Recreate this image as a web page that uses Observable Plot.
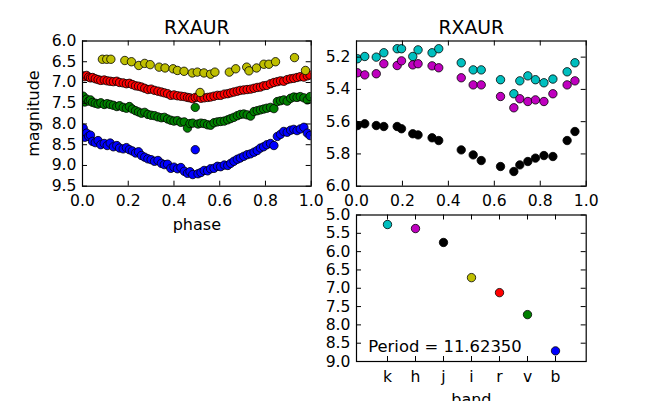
<!DOCTYPE html>
<html><head><meta charset="utf-8">
<script src="https://cdn.jsdelivr.net/npm/d3@7"></script>
<script src="https://cdn.jsdelivr.net/npm/@observablehq/plot@0.6"></script>
<style>
body{margin:0;background:#fff;}
#wrap{position:relative;width:650px;height:401px;overflow:hidden;background:#fff;}
#wrap svg{position:absolute;left:0;top:0;}
</style></head><body><div id="wrap"></div>
<script>
const starName = "RXAUR";
const periodText = "Period = 11.62350";

// optical bands (b, v, r) share phases
const bvrPhase = [0.003,0.010,0.018,0.027,0.035,0.044,0.056,0.068,0.080,0.095,0.108,0.121,0.135,0.150,0.162,0.178,0.192,0.205,0.218,0.232,0.245,0.258,0.272,0.286,0.300,0.315,0.330,0.345,0.358,0.372,0.386,0.400,0.415,0.430,0.445,0.459,0.470,0.482,0.493,0.505,0.518,0.532,0.547,0.560,0.575,0.590,0.604,0.620,0.635,0.648,0.662,0.677,0.690,0.705,0.720,0.735,0.750,0.764,0.778,0.792,0.806,0.822,0.837,0.852,0.866,0.880,0.895,0.910,0.924,0.938,0.952,0.968,0.983,0.995];
const bMag = [8.10,8.32,8.22,8.30,8.27,8.42,8.45,8.40,8.50,8.47,8.52,8.46,8.55,8.52,8.58,8.60,8.57,8.62,8.65,8.70,8.67,8.76,8.80,8.84,8.86,8.90,8.88,8.95,8.98,8.97,9.07,9.04,9.08,9.05,9.14,9.19,9.15,9.22,8.62,9.20,9.17,9.12,9.13,9.08,9.07,9.02,9.03,8.99,9.00,8.95,8.90,8.85,8.82,8.78,8.74,8.72,8.68,8.64,8.58,8.55,8.50,8.47,8.52,8.30,8.25,8.18,8.20,8.15,8.13,8.16,8.12,8.08,8.22,8.28];
const vMag = [7.33,7.47,7.40,7.45,7.42,7.48,7.50,7.52,7.49,7.53,7.51,7.53,7.55,7.58,7.56,7.60,7.62,7.58,7.64,7.68,7.71,7.74,7.72,7.77,7.79,7.80,7.83,7.85,7.84,7.88,7.91,7.93,7.92,7.96,7.95,8.10,7.99,7.98,7.60,8.00,7.98,7.99,8.02,8.03,7.97,7.95,7.94,7.93,7.90,7.87,7.84,7.80,7.77,7.76,7.78,7.81,7.70,7.68,7.66,7.64,7.62,7.60,7.63,7.46,7.44,7.42,7.45,7.38,7.35,7.36,7.34,7.37,7.42,7.34];
const rMag = [6.84,6.86,6.83,6.87,6.89,6.88,6.91,6.93,6.95,6.94,6.96,6.97,6.98,6.97,7.00,7.01,7.03,7.02,7.05,7.08,7.09,7.11,7.14,7.17,7.16,7.19,7.21,7.23,7.25,7.27,7.31,7.30,7.32,7.33,7.34,7.36,7.37,7.39,7.36,7.35,7.38,7.37,7.36,7.35,7.33,7.31,7.31,7.28,7.27,7.25,7.23,7.21,7.19,7.18,7.17,7.16,7.14,7.12,7.11,7.08,7.07,7.03,7.00,6.98,6.96,6.97,6.93,6.91,6.90,6.88,6.86,6.87,6.84,6.82];

const iPhase = [0.087,0.106,0.124,0.185,0.214,0.246,0.272,0.296,0.335,0.361,0.396,0.415,0.444,0.480,0.502,0.514,0.531,0.560,0.579,0.642,0.670,0.718,0.728,0.761,0.793,0.815,0.844,0.927,0.975];
const iMag = [6.44,6.44,6.44,6.47,6.50,6.59,6.54,6.57,6.63,6.65,6.67,6.71,6.73,6.77,6.75,7.24,6.77,6.80,6.75,6.75,6.67,6.63,6.72,6.65,6.56,6.56,6.50,6.40,6.71];

// near-infrared bands (k, h, j) share phases
const nirPhase = [0.004,0.036,0.086,0.119,0.177,0.196,0.245,0.268,0.329,0.358,0.456,0.508,0.543,0.627,0.685,0.711,0.746,0.779,0.816,0.855,0.917,0.951];
const kMag = [5.21,5.196,5.20,5.173,5.148,5.148,5.196,5.155,5.173,5.148,5.235,5.279,5.279,5.34,5.427,5.347,5.316,5.34,5.359,5.336,5.291,5.235];
const hMag = [5.297,5.31,5.303,5.241,5.252,5.223,5.248,5.241,5.254,5.266,5.328,5.372,5.372,5.444,5.514,5.458,5.475,5.465,5.475,5.427,5.372,5.347];
const jMag = [5.624,5.613,5.624,5.63,5.63,5.644,5.675,5.682,5.70,5.717,5.775,5.806,5.841,5.878,5.909,5.868,5.847,5.826,5.81,5.816,5.717,5.661];

// mean magnitude per band
const bands = ["k","h","j","i","r","v","b"];
const bandMag = [5.26,5.37,5.75,6.71,7.12,7.72,8.71];
const bandColor = {k:"#00bfbf", h:"#bf00bf", j:"#000000", i:"#bfbf00", r:"#ff0000", v:"#008000", b:"#0000ff"};

const phaseTicks = [0.0,0.2,0.4,0.6,0.8,1.0];
const optTicks = [6.0,6.5,7.0,7.5,8.0,8.5,9.0,9.5];
const nirTicks = [5.2,5.4,5.6,5.8,6.0];
const meanTicks = [5.0,5.5,6.0,6.5,7.0,7.5,8.0,8.5,9.0];

const W = 650, H = 401;
const FS = 15.6, LABEL_FS = 16, TITLE_FS = 18.8;
const fmt1 = d3.format(".1f");
const dotOpts = {r: 4.2, stroke: "black", strokeWidth: 0.8, clip: true};

function series(phase, mag, band) {
  return Plot.dot(phase.map((p, i) => ({phase: p, mag: mag[i]})),
    {x: d => d.phase, y: d => d.mag, fill: bandColor[band], ...dotOpts});
}

function panel(o) {
  const fw = W - o.ml - o.mr, fh = H - o.mt - o.mb, tl = 5;
  return Plot.plot({
    width: W, height: H,
    marginLeft: o.ml, marginRight: o.mr, marginTop: o.mt, marginBottom: o.mb,
    x: o.x, y: o.y,
    style: {fontFamily: "'DejaVu Sans', sans-serif", fontSize: FS + "px", background: "transparent", overflow: "visible", color: "black"},
    marks: [
      ...o.dots,
      Plot.frame({stroke: "black", strokeWidth: 1.2}),
      Plot.tickX(o.xTicks, {x: d => d, insetTop: fh - tl, stroke: "black"}),
      Plot.tickX(o.xTicks, {x: d => d, insetBottom: fh - tl, stroke: "black"}),
      Plot.tickY(o.yTicks, {y: d => d, insetRight: fw - tl, stroke: "black"}),
      Plot.tickY(o.yTicks, {y: d => d, insetLeft: fw - tl, stroke: "black"}),
      Plot.axisX(o.xTicks, {anchor: "bottom", tickSize: 0, tickPadding: 9.2, tickFormat: o.xFormat, label: null, fontSize: FS}),
      Plot.axisY(o.yTicks, {anchor: "left", tickSize: 0, tickPadding: 6, tickFormat: fmt1, label: null, fontSize: FS}),
      ...o.extra
    ]
  });
}

const wrap = document.getElementById("wrap");

wrap.append(panel({
  ml: 82, mr: 339.3, mt: 40.5, mb: 215.3,
  x: {domain: [0, 1]}, y: {domain: [6, 9.5], reverse: true},
  xTicks: phaseTicks, yTicks: optTicks, xFormat: fmt1,
  dots: [series(bvrPhase, bMag, "b"), series(bvrPhase, vMag, "v"), series(bvrPhase, rMag, "r"), series(iPhase, iMag, "i")],
  extra: [
    Plot.text([starName], {text: d => d, frameAnchor: "top", dy: -7.2, lineAnchor: "bottom", fontSize: TITLE_FS}),
    Plot.text(["phase"], {text: d => d, frameAnchor: "bottom", dy: 43.8, lineAnchor: "bottom", fontSize: LABEL_FS}),
    Plot.text(["magnitude"], {text: d => d, frameAnchor: "left", dx: -43.5, rotate: -90, textAnchor: "middle", lineAnchor: "bottom", fontSize: LABEL_FS})
  ]
}));

wrap.append(panel({
  ml: 356, mr: 64.3, mt: 40.5, mb: 215.3,
  x: {domain: [0, 1]}, y: {domain: [5.1, 6.0], reverse: true},
  xTicks: phaseTicks, yTicks: nirTicks, xFormat: fmt1,
  dots: [series(nirPhase, kMag, "k"), series(nirPhase, hMag, "h"), series(nirPhase, jMag, "j")],
  extra: [
    Plot.text([starName], {text: d => d, frameAnchor: "top", dy: -7.2, lineAnchor: "bottom", fontSize: TITLE_FS})
  ]
}));

wrap.append(panel({
  ml: 356, mr: 64.3, mt: 214.5, mb: 40,
  x: {type: "point", domain: bands, padding: 1}, y: {domain: [5, 9], reverse: true},
  xTicks: bands, yTicks: meanTicks, xFormat: d => d,
  dots: [Plot.dot(bands.map((b, i) => ({band: b, mag: bandMag[i]})),
    {x: d => d.band, y: d => d.mag, fill: d => bandColor[d.band], ...dotOpts})],
  extra: [
    Plot.text([periodText], {text: d => d, frameAnchor: "bottom-left", dx: 11.7, dy: -9.3, textAnchor: "start", lineAnchor: "bottom", fontSize: 16.4}),
    Plot.text(["band"], {text: d => d, frameAnchor: "bottom", dy: 43.3, lineAnchor: "bottom", fontSize: LABEL_FS})
  ]
}));
</script></body></html>
